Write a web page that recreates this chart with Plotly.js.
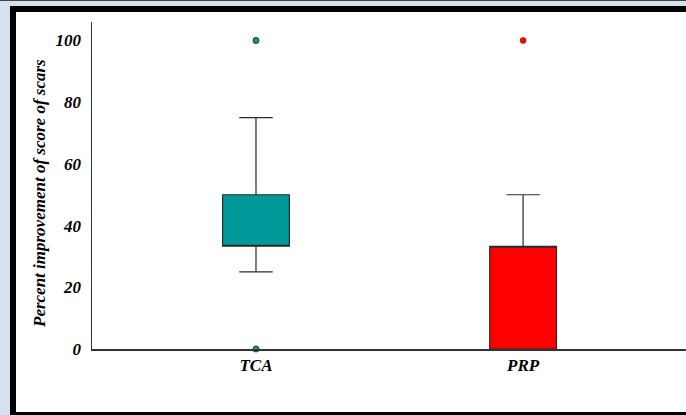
<!DOCTYPE html>
<html>
<head>
<meta charset="utf-8">
<script src="https://cdn.plot.ly/plotly-3.0.1.min.js"></script>
<style>
  html, body { margin:0; padding:0; width:686px; height:415px; overflow:hidden; background:#d6e0f0; }
  #topline { position:absolute; left:0; top:0; width:686px; height:1px; background:#444; }
  #frame { position:absolute; left:10px; top:6px; width:700px; height:420px; background:#fff;
           border-left:6px solid #000; border-top:6px solid #000; box-sizing:border-box; }
  #bottom { position:absolute; left:10px; top:412px; width:686px; height:3px; background:#000; }
  #chart { position:absolute; left:0; top:0; width:686px; height:415px; }
</style>
</head>
<body>
<div id="topline"></div>
<div id="frame"></div>
<div id="bottom"></div>
<div id="chart"></div>
<script>
const categories = ['TCA', 'PRP'];
const q1Values = [33.3, 0];
const medianValues = [33.3, 33.3];
const q3Values = [50, 33.3];
const lowerWhisker = [25, 0];
const upperWhisker = [75, 50];
const outlierTCA = [100, 0];
const outlierPRP = [100];
const boxColors = ['#009999', '#ff0000'];
const yTickValues = [0, 20, 40, 60, 80, 100];
const yTitle = 'Percent improvement of score of scars';

const fnt = {family: 'Liberation Serif', size: 17, color: '#000', weight: 'bold', style: 'italic'};

const traces = categories.map((c, i) => ({
  type: 'box',
  x: [c],
  q1: [q1Values[i]],
  median: [medianValues[i]],
  q3: [q3Values[i]],
  lowerfence: [lowerWhisker[i]],
  upperfence: [upperWhisker[i]],
  fillcolor: boxColors[i],
  line: {color: '#2a2a2a', width: 1.2},
  width: 0.25,
  whiskerwidth: 0.5,
  boxpoints: false,
  showlegend: false,
  hoverinfo: 'skip'
}));

traces.push({
  type: 'scatter', mode: 'markers',
  x: outlierTCA.map(() => categories[0]), y: outlierTCA,
  marker: {color: boxColors[0], size: 6, line: {color: '#333', width: 1}},
  showlegend: false, cliponaxis: false
});
traces.push({
  type: 'scatter', mode: 'markers',
  x: outlierPRP.map(() => categories[1]), y: outlierPRP,
  marker: {color: boxColors[1], size: 6, line: {color: '#a00', width: 0.5}},
  showlegend: false, cliponaxis: false
});

const layout = {
  width: 686, height: 415,
  margin: {l: 92, r: 0, t: 22, b: 66},
  paper_bgcolor: 'rgba(0,0,0,0)',
  plot_bgcolor: 'rgba(0,0,0,0)',
  boxmode: 'overlay',
  showlegend: false,
  xaxis: {
    type: 'category', categoryorder: 'array', categoryarray: categories,
    range: [-0.614, 1.61],
    showline: true, linecolor: '#333', linewidth: 1.5,
    showgrid: false, zeroline: false, ticks: '',
    tickfont: fnt, ticklabelstandoff: 0
  },
  yaxis: {
    range: [0, 106],
    tickvals: yTickValues,
    showline: true, linecolor: '#333', linewidth: 1.5,
    showgrid: false, zeroline: false, ticks: '',
    tickfont: fnt, ticklabelstandoff: 6
  },
  annotations: [{
    text: yTitle, font: fnt, textangle: -90,
    xref: 'paper', yref: 'paper', x: 0, y: 0.474,
    xanchor: 'center', yanchor: 'middle', xshift: -53, showarrow: false
  }]
};

Plotly.newPlot('chart', traces, layout, {displayModeBar: false, staticPlot: true});
</script>
</body>
</html>
